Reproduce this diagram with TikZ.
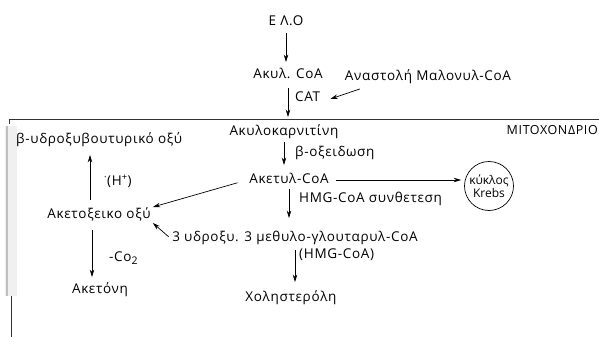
\documentclass[tikz,border=0pt]{standalone}
\usepackage{fontspec}
\setmainfont[LetterSpace=5]{Open Sans}
\newfontfamily\circlefont{Open Sans}
\usetikzlibrary{arrows.meta,calc}
\begin{document}
\begin{tikzpicture}[x=1pt,y=-1pt,
  lbl/.style={inner sep=2pt, text height=9pt, text depth=2.5pt,
              font=\fontsize{13.5}{15}\selectfont},
  arr/.style={-{Stealth[length=7.5pt,width=4.5pt]}, line width=0.7pt},
  frame/.style={line width=0.8pt, black!80}]
\useasboundingbox (0,0) rectangle (599,337);
\clip (0,0) rectangle (599,337);

% mitochondrion outline
\fill[black!6] (5,126) rectangle (17,296);
\draw[black!25, line width=1.2pt] (7,126) -- (7,296);
\draw[frame] (9,124) -- (9,119) -- (599,119);
\draw[frame] (11,296) -- (11,337);
\node[lbl, anchor=east, inner sep=1pt, font=\fontsize{12.5}{14}\selectfont]
  (mito) at (599,131) {ΜΙΤΟΧΟΝΔΡΙΟ};

% main column
\node[lbl] (elo)    at (286,22)  {Ε Λ.Ο};
\node[lbl] (acyl)   at (288,75)  {Ακυλ. CoA};
\node[lbl, anchor=west] (cat) at (293,98) {CAT};
\node[lbl] (inhib)  at (428,77)  {Αναστολή Μαλονυλ-CoA};
\node[lbl] (carn)   at (284,132) {Ακυλοκαρνιτίνη};
\node[lbl, anchor=west] (beta) at (293,153) {β-οξειδωση};
\node[lbl] (acetyl) at (289,180) {Ακετυλ-CoA};
\node[lbl, anchor=west] (hmgs) at (297,199) {HMG-CoA συνθετεση};
\node[lbl] (hmg)    at (295,238) {3 υδροξυ. 3 μεθυλο-γλουταρυλ-CoA};
\node[lbl, anchor=west] (hmgp) at (297,255) {(HMG-CoA)};
\node[lbl] (chol)   at (291,298) {Χοληστερόλη};

% Krebs cycle
\node[draw, circle, minimum size=49pt, inner sep=0pt, line width=0.7pt,
      align=center, font=\circlefont\fontsize{12}{13.5}\selectfont] (krebs) at (489,186)
      {κύκλος\\Krebs};

% ketone bodies
\node[lbl, anchor=west] (bhb) at (14,140) {β-υδροξυβουτυρικό οξύ};
\node[lbl, anchor=west] (hplus) at (102,182) {\textsuperscript{·}(H\textsuperscript{+})};
\node[lbl] (acac)   at (99,215)  {Ακετοξεικο οξύ};
\node[lbl, anchor=west] (co2) at (107,258) {-Co\raisebox{-0.45ex}{\fontsize{10.5}{11}\selectfont 2}};
\node[lbl] (acetone) at (100,290) {Ακετόνη};

% connectors
\draw[arr, shorten <=3pt, shorten >=5pt] (elo.south) -- (elo.south |- acyl.north);
\draw[arr, shorten <=5pt, shorten >=7pt] (acyl.south) -- (acyl.south |- carn.north);
\draw[arr] ($(inhib.south west)+(17,4)$) -- ($(cat.east)+(8,1)$);
\draw[arr, shorten <=2pt, shorten >=7pt] (carn.south) -- (carn.south |- acetyl.north);
\draw[arr, shorten <=5pt, shorten >=3pt] (acetyl.east) -- (acetyl.east -| krebs.west);
\draw[arr, shorten <=10pt] (acetyl.west) -- (acac.north east);
\draw[arr, shorten <=1pt, shorten >=12pt] (acetyl.south) -- (acetyl.south |- hmg.north);
\draw[arr, shorten <=2pt] (hmg.west) -- (acac.south east);
\draw[arr, shorten <=4pt, shorten >=8pt] (hmg.south) -- (hmg.south |- chol.north);
\draw[arr, shorten <=7pt, shorten >=7pt] ([xshift=-9pt]acac.north) -- ([xshift=-9pt]acac.north |- bhb.south);
\draw[arr, shorten <=7pt, shorten >=5pt] ([xshift=-7pt]acac.south) -- ([xshift=-7pt]acac.south |- acetone.north);
\end{tikzpicture}
\end{document}
